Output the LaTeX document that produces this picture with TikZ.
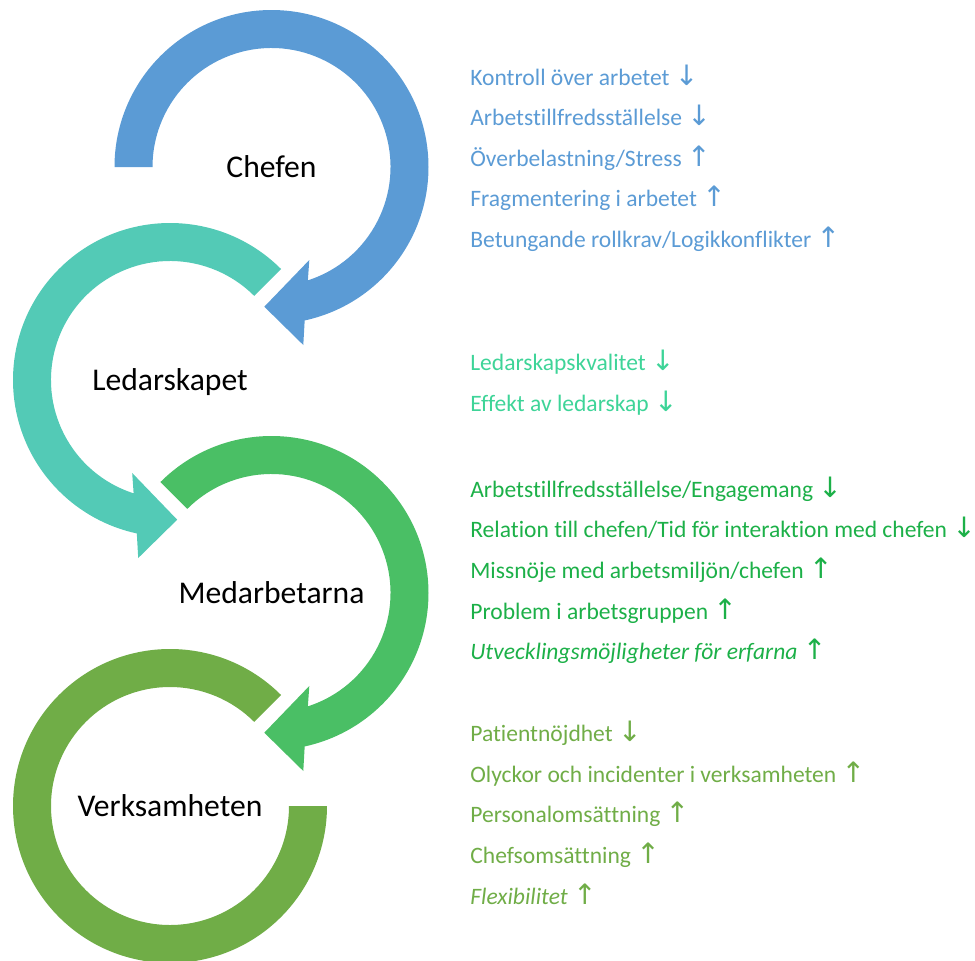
\documentclass[tikz,border=0pt]{standalone}
\usepackage{fontspec}
\setmainfont{Carlito}[Ligatures=NoCommon]
\newfontfamily\arrowfont{DejaVu Sans}
\newcommand\arrdown{{\arrowfont\fontsize{16}{16}\selectfont ↓}}
\newcommand\arrup{{\arrowfont\fontsize{16}{16}\selectfont ↑}}
\usetikzlibrary{positioning}
\definecolor{chefblue}{RGB}{91,155,213}
\definecolor{ledteal}{RGB}{83,202,182}
\definecolor{ledtext}{RGB}{62,212,152}
\definecolor{medgreen}{RGB}{74,191,101}
\definecolor{medtext}{RGB}{28,176,72}
\definecolor{verkolive}{RGB}{112,173,71}
\begin{document}
\begin{tikzpicture}[x=0.02cm,y=0.02cm,
    item/.style={anchor=base west,inner sep=0pt,font=\fontsize{13.4}{15}\selectfont},
    nextline/.style={below=0.812cm of #1.base west,item},
    hub/.style={anchor=base,yshift=-0.21cm,font=\fontsize{18}{21}\selectfont}
    ]
  \useasboundingbox (0,0) rectangle (975,-961);

  \coordinate (c1) at (271.5,-167);
  \coordinate (c2) at (170,-380);
  \coordinate (c3) at (271.5,-593);
  \coordinate (c4) at (170,-806);

  \fill[chefblue] ([shift={(180:157)}]c1) arc[start angle=180,end angle=-77.8,radius=157]
    -- ([shift={(31.8,-178)}]c1) -- ([shift={(-7.2,-139.7)}]c1) -- ([shift={(37.8,-93)}]c1)
    -- ([shift={(-72.2:119)}]c1) arc[start angle=-72.2,end angle=180,radius=119] -- cycle;
  \fill[ledteal] ([shift={(45:157)}]c2) arc[start angle=45,end angle=257.8,radius=157]
    -- ([shift={(-31.8,-178)}]c2) -- ([shift={(7.2,-139.7)}]c2) -- ([shift={(-37.8,-93)}]c2)
    -- ([shift={(252.2:119)}]c2) arc[start angle=252.2,end angle=45,radius=119] -- cycle;
  \fill[medgreen] ([shift={(135:157)}]c3) arc[start angle=135,end angle=-77.8,radius=157]
    -- ([shift={(31.8,-178)}]c3) -- ([shift={(-7.2,-139.7)}]c3) -- ([shift={(37.8,-93)}]c3)
    -- ([shift={(-72.2:119)}]c3) arc[start angle=-72.2,end angle=135,radius=119] -- cycle;
  \fill[verkolive] ([shift={(45:157)}]c4) arc[start angle=45,end angle=360,radius=157]
    -- ([shift={(0:119)}]c4) arc[start angle=360,end angle=45,radius=119] -- cycle;

  \node[hub] (chefen) at (c1) {Chefen};
  \node[hub] (ledarskapet) at (c2) {Ledarskapet};
  \node[hub] (medarbetarna) at (c3) {Medarbetarna};
  \node[hub] (verksamheten) at (c4) {Verksamheten};

  \node[item,text=chefblue] (k1) at (470,-85) {Kontroll över arbetet \arrdown};
  \node[nextline=k1,text=chefblue] (k2) {Arbetstillfredsställelse \arrdown};
  \node[nextline=k2,text=chefblue] (k3) {Överbelastning/Stress \arrup};
  \node[nextline=k3,text=chefblue] (k4) {Fragmentering i arbetet \arrup};
  \node[nextline=k4,text=chefblue] (k5) {Betungande rollkrav/Logikkonflikter \arrup};

  \node[item,text=ledtext] (l1) at (470,-370.7) {Ledarskapskvalitet \arrdown};
  \node[nextline=l1,text=ledtext] (l2) {Effekt av ledarskap \arrdown};

  \node[item,text=medtext] (m1) at (470,-497.3) {Arbetstillfredsställelse/Engagemang \arrdown};
  \node[nextline=m1,text=medtext] (m2) {Relation till chefen/Tid för interaktion med chefen \arrdown};
  \node[nextline=m2,text=medtext] (m3) {Missnöje med arbetsmiljön/chefen \arrup};
  \node[nextline=m3,text=medtext] (m4) {Problem i arbetsgruppen \arrup};
  \node[nextline=m4,text=medtext] (m5) {\textit{Utvecklingsmöjligheter för erfarna} \arrup};

  \node[item,text=verkolive] (v1) at (470,-741.7) {Patientnöjdhet \arrdown};
  \node[nextline=v1,text=verkolive] (v2) {Olyckor och incidenter i verksamheten \arrup};
  \node[nextline=v2,text=verkolive] (v3) {Personalomsättning \arrup};
  \node[nextline=v3,text=verkolive] (v4) {Chefsomsättning \arrup};
  \node[nextline=v4,text=verkolive] (v5) {\textit{Flexibilitet} \arrup};
\end{tikzpicture}
\end{document}
